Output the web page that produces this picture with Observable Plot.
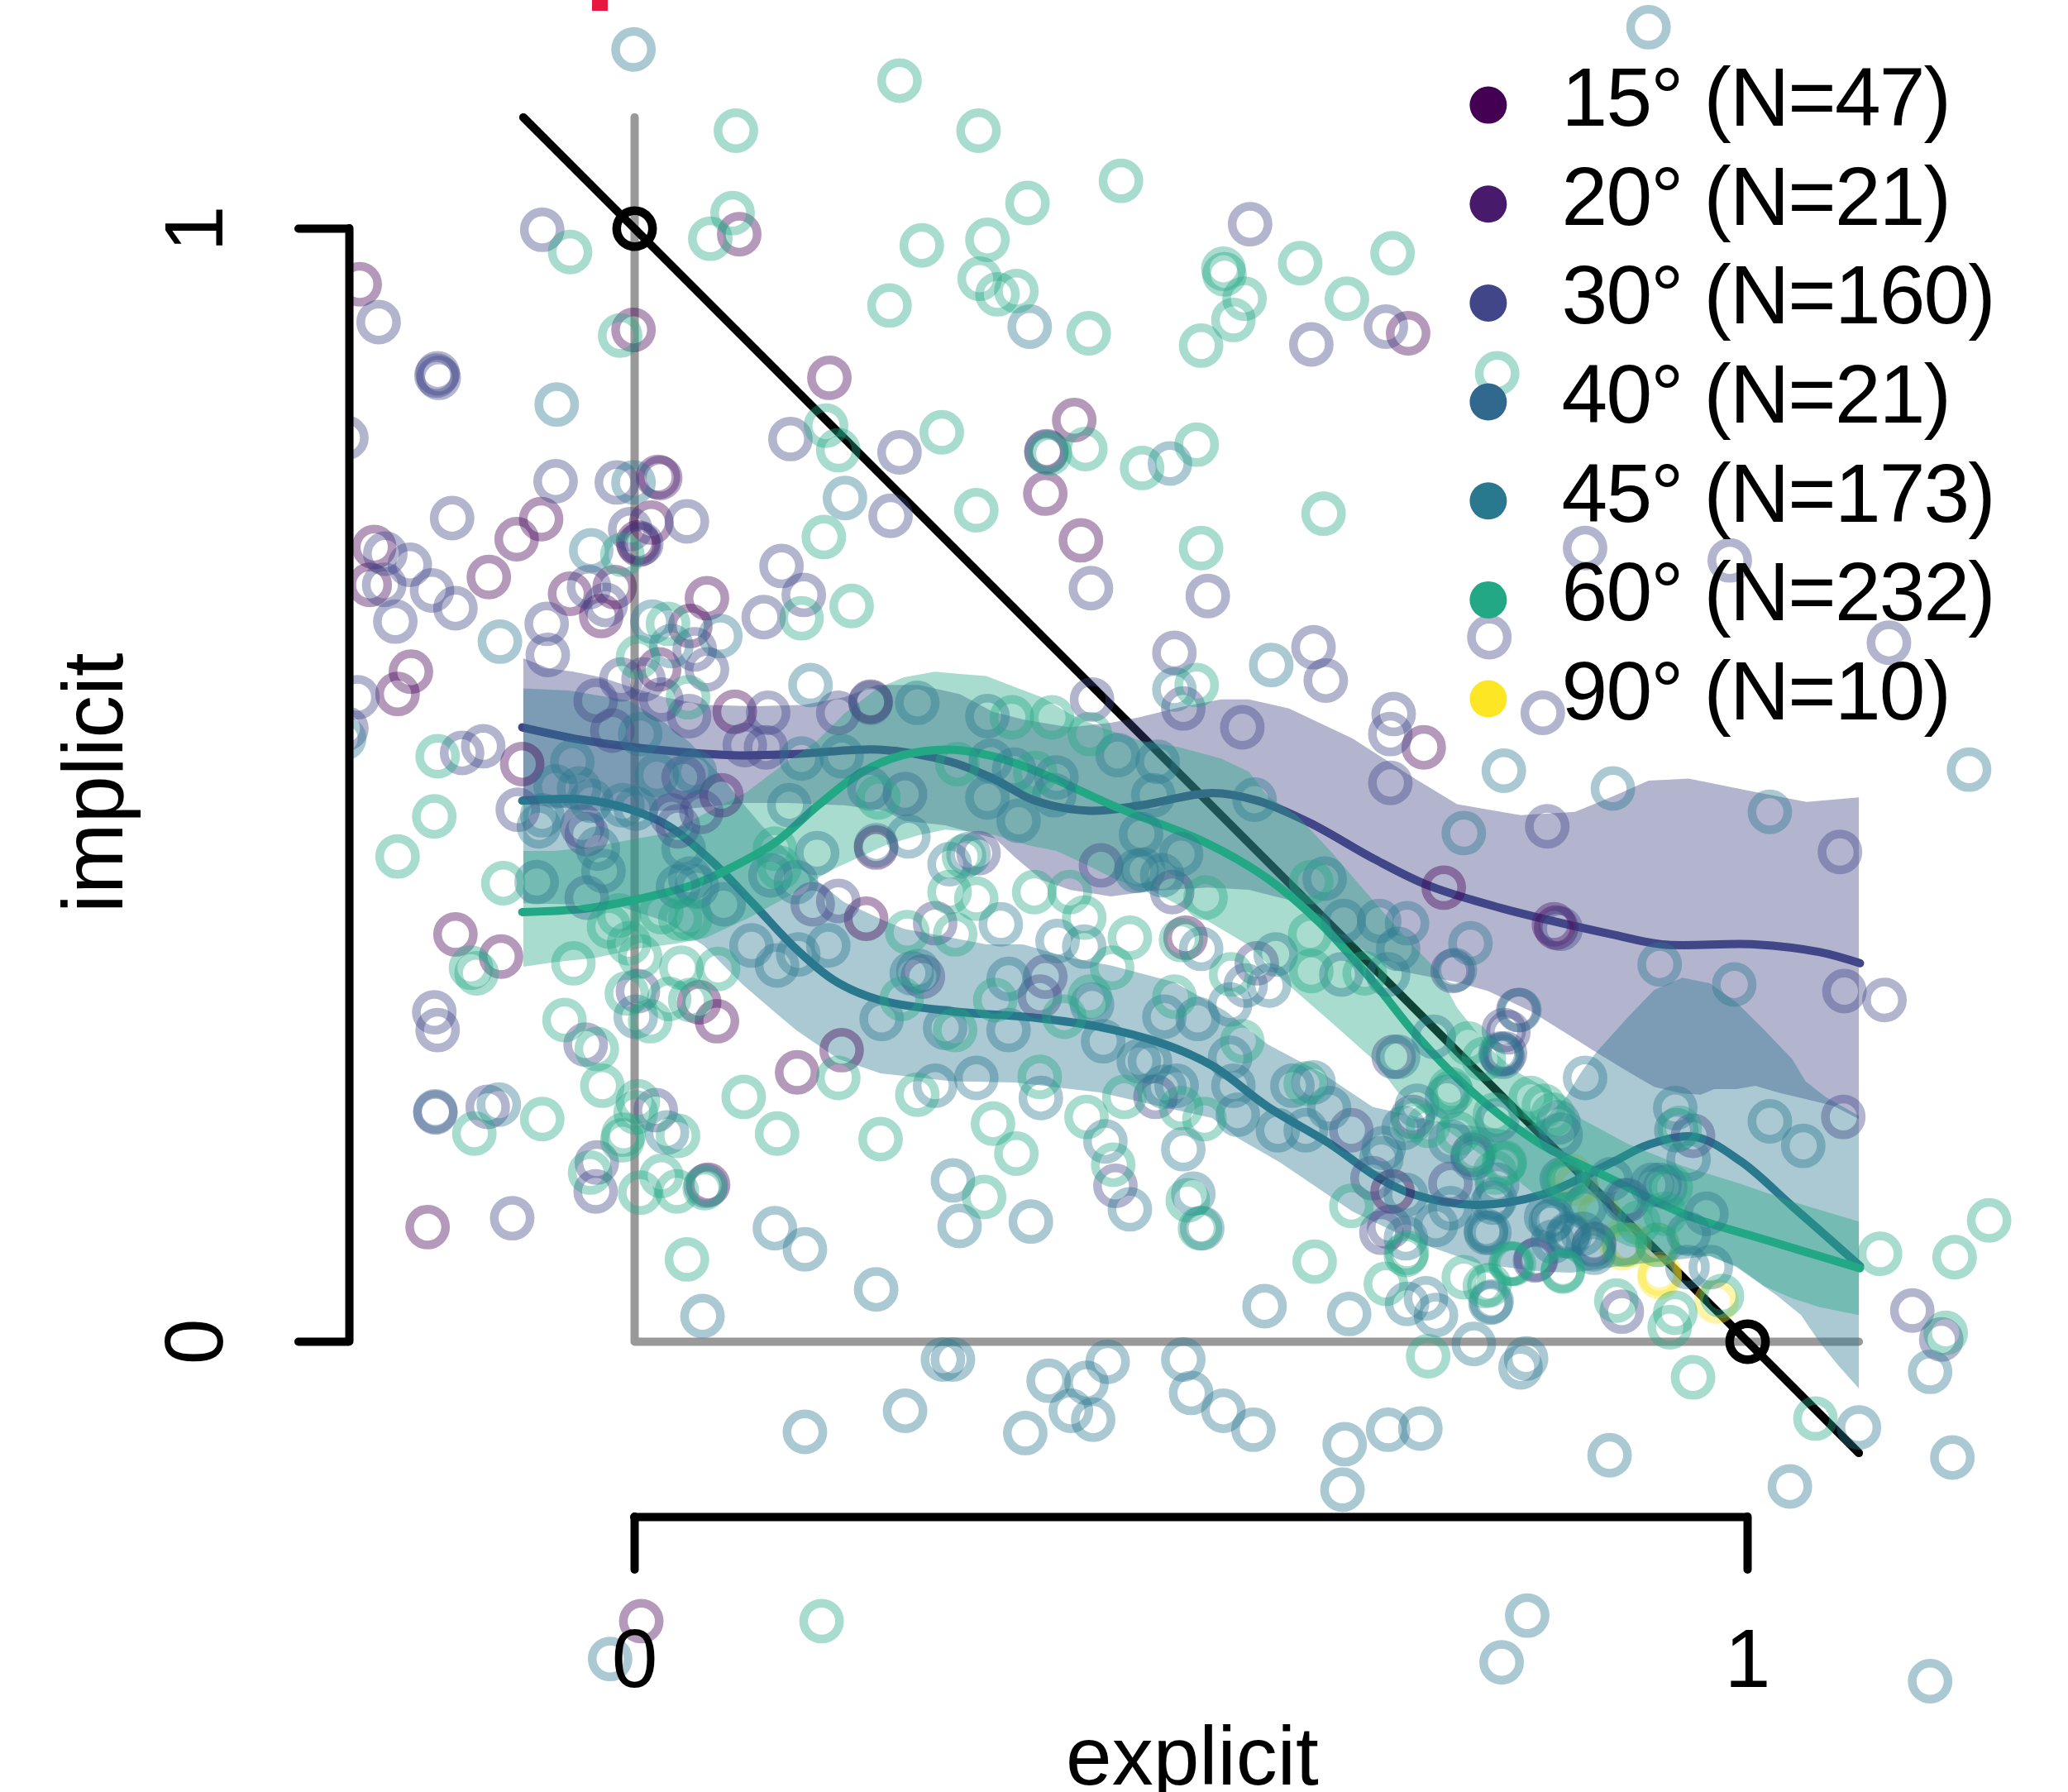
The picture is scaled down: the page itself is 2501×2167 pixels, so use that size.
<!DOCTYPE html>
<html><head><meta charset="utf-8">
<style>html,body{margin:0;padding:0;background:#fff}svg{display:block}.legend-text{letter-spacing:-1.8px}</style>
<script src="https://cdn.jsdelivr.net/npm/d3@7"></script>
<script src="https://cdn.jsdelivr.net/npm/@observablehq/plot@0.6"></script>
</head><body><div id="chart"></div>
<script>
const angleLabels = ["15° (N=47)","20° (N=21)","30° (N=160)","40° (N=21)","45° (N=173)","60° (N=232)","90° (N=10)"];
const angleColors = ["#440154","#481a6c","#404688","#31688e","#2a788e","#22a884","#fde725"];
const tickValues = [0,1];

const s15 = [[.094,.995],[-.247,.950],[-.001,.909],[.175,.866],[-.084,.739],[-.106,.721],[.015,.736],[.003,.718],[-.234,.714],[-.131,.687],[-.238,.680],[-.058,.672],[-.018,.678],[-.030,.652],[.065,.668],[.050,.643],[.022,.604],[-.201,.602],[-.213,.582],[.090,.566],[.212,.575],[-.101,.519],[.217,.444],[.208,.380],[-.161,.366],[-.120,.346],[.146,.242],[.186,.262],[.058,.305],[.074,.288],[.066,.141],[-.186,.103],[.006,-.251],[.828,.372],[.695,.906],[.395,.828],[.370,.800],[.369,.762],[.401,.720],[.709,.534],[.727,.408],[.495,.363],[.681,.135]];
const s20 = [[.021,.777],[.023,.776],[.004,.716],[.078,.491],[.826,.375]];
const s30 = [[-.083,.999],[-.230,.916],[-.177,.870],[-.176,.866],[-.178,.868],[-.259,.812],[.140,.811],[.238,.799],[.230,.742],[-.071,.773],[-.016,.772],[-.164,.740],[.047,.737],[-.004,.730],[.006,.717],[-.224,.708],[-.202,.698],[.132,.697],[-.225,.680],[-.182,.675],[-.215,.647],[-.161,.659],[-.079,.645],[-.078,.617],[-.041,.678],[-.026,.662],[.116,.651],[.152,.671],[.054,.622],[.065,.604],[-.012,.595],[.008,.595],[-.249,.579],[-.259,.551],[-.035,.576],[.024,.577],[.049,.562],[.120,.565],[.183,.565],[-.020,.549],[-.155,.529],[-.136,.535],[.099,.536],[.118,.534],[.044,.507],[-.105,.478],[-.047,.463],[-.043,.456],[.033,.473],[.060,.476],[.039,.463],[.160,.393],[.183,.396],[.270,.376],[-.180,.296],[-.177,.280],[-.044,.267],[.259,.328],[.003,.315],[-.179,.206],[-.132,.211],[.019,.208],[-.034,.161],[-.035,.135],[-.110,.111],[.432,.140],[.832,.371],[1.087,.315],[1.123,.307],[.785,.278],[.782,.259],[.951,.185],[1.086,.202],[.887,.027],[.862,.088],[.810,.074],[.892,.127],[1.127,.628],[1.148,.028],[1.174,.002],[.768,.633],[.816,.565],[.854,.713],[.984,.702],[1.083,.440],[.553,1.004],[.608,.896],[.675,.912],[.410,.677],[.515,.670],[.485,.619],[.493,.569],[.610,.624],[.621,.594],[.546,.552],[.411,.577],[.682,.564],[.679,.546],[.679,.502],[.820,.463],[.735,.333],[.794,.298],[.781,.280],[.779,.258],[.419,.428],[.483,.404],[.559,.340],[.309,.439],[.369,.328],[.364,.310],[.468,.220],[.644,.190],[.809,.073],[.682,.256],[.699,.202],[.753,.168],[.663,.147],[.733,.142],[.678,.103],[.671,.098]];
const s40 = [[-.179,.207],[.217,.446],[.064,.140],[.212,.574],[.370,.799],[.243,.492],[-.043,.399],[.549,.320]];
const s45 = [[-.001,1.161],[-.070,.842],[.189,.758],[-.001,.772],[-.039,.711],[-.121,.629],[.016,.647],[.077,.634],[.033,.625],[.158,.590],[-.261,.542],[.254,.574],[.005,.546],[.054,.512],[.150,.524],[.186,.526],[-.056,.521],[.020,.509],[-.071,.499],[-.050,.497],[-.039,.486],[-.083,.473],[-.086,.463],[-.088,.413],[-.011,.482],[.001,.479],[.139,.482],[.211,.497],[.246,.454],[.283,.429],[.164,.439],[.122,.419],[.145,.413],[.080,.393],[.044,.443],[.050,.416],[.039,.409],[.056,.409],[-.033,.443],[-.028,.423],[.105,.356],[.128,.338],[.147,.348],[.174,.356],[.270,.230],[.222,.290],[.249,.331],[.255,.333],[.001,.292],[.279,.282],[-.122,.213],[.029,.188],[.126,.102],[.153,.083],[.217,.047],[.061,.023],[.277,-.016],[.243,-.062],[.153,-.081],[-.022,-.285],[.365,.219],[.423,.180],[.445,.119],[.493,.173],[.502,.133],[.510,.102],[.356,.108],[.286,.145],[.292,.104],[.566,.032],[.642,.025],[.694,.034],[.711,.039],[.720,.024],[.769,.035],[.754,-.002],[.801,-.015],[.796,-.023],[.286,-.016],[.372,-.035],[.406,-.037],[.425,-.018],[.392,-.062],[.412,-.070],[.351,-.082],[.493,-.016],[.500,-.046],[.529,-.062],[.556,-.079],[.638,-.092],[.677,-.079],[.706,-.078],[.636,-.133],[.876,-.102],[.802,-.246],[.779,-.288],[.921,.339],[.988,.321],[.795,.298],[.780,.256],[.854,.237],[.935,.210],[.936,.190],[.947,.164],[1.020,.198],[1.050,.176],[.877,.146],[.833,.146],[.921,.141],[.914,.141],[.926,.139],[.889,.127],[.854,.121],[.963,.115],[.947,.097],[.967,.067],[.946,.067],[.862,.087],[.823,.108],[.839,.097],[.852,.097],[.775,.141],[.768,.098],[.770,.036],[1.199,.514],[1.164,-.027],[1.184,-.104],[1.100,-.077],[1.038,-.130],[1.164,-.305],[.911,1.181],[1.020,.476],[.879,.497],[.745,.457],[.751,.358],[.737,.334],[.355,.912],[.481,.789],[.485,.586],[.572,.608],[.781,.513],[.317,.562],[.434,.527],[.470,.521],[.466,.491],[.557,.487],[.320,.522],[.341,.514],[.379,.507],[.377,.491],[.317,.489],[.345,.468],[.455,.456],[.491,.438],[.451,.423],[.457,.424],[.474,.419],[.620,.416],[.637,.378],[.669,.378],[.694,.376],[.686,.353],[.576,.348],[.635,.330],[.677,.330],[.570,.320],[.509,.353],[.404,.355],[.380,.360],[.329,.375],[.300,.438],[.336,.326],[.411,.303],[.336,.280],[.421,.270],[.476,.292],[.506,.290],[.535,.303],[.535,.255],[.453,.252],[.463,.252],[.487,.230],[.476,.229],[.542,.204],[.538,.230],[.591,.230],[.610,.233],[.624,.210],[.578,.190],[.603,.190],[.673,.174],[.307,.237],[.765,.100],[.771,.125],[.838,.095],[.819,.112],[.861,.083],[.686,.256],[.718,.274],[.778,.259],[.830,.197],[.832,.186],[.730,.220],[.703,.212],[.691,.192],[.733,.180],[.775,.199],[.753,.165],[.671,.165],[.693,.132],[.773,.128],[.733,.120],[.720,.105],[.765,.098],[.693,.093],[.825,.110],[.840,.095],[.825,.090],[.862,.080]];
const s60 = [[.238,1.133],[.091,1.088],[.088,1.014],[.068,.991],[-.058,.979],[.258,.985],[.229,.931],[-.013,.904],[.172,.823],[.183,.801],[.276,.817],[.170,.723],[-.011,.707],[.150,.650],[.195,.661],[.030,.645],[.003,.615],[.048,.579],[-.177,.526],[-.180,.472],[-.213,.436],[-.118,.412],[.219,.489],[.283,.404],[.126,.443],[.130,.426],[.245,.368],[.041,.380],[.050,.380],[.024,.386],[-.023,.373],[-.014,.383],[-.005,.358],[.005,.346],[.042,.336],[.075,.335],[-.055,.340],[-.147,.336],[-.142,.331],[-.063,.289],[-.034,.263],[-.029,.230],[.183,.237],[.254,.222],[.240,.308],[-.007,.313],[.014,.288],[.031,.308],[.050,.307],[-.144,.187],[-.083,.200],[.098,.220],[.128,.187],[.221,.182],[.003,.216],[.001,.206],[.039,.185],[-.010,.186],[-.011,.181],[-.040,.152],[.005,.134],[.024,.149],[.038,.135],[.063,.138],[.047,.074],[.168,-.251],[.322,.196],[.343,.169],[.364,.238],[.406,.202],[.430,.159],[.497,.127],[.508,.102],[.314,.130],[.611,.072],[.675,.052],[.745,.058],[.764,.050],[.713,-.013],[.939,.192],[.839,.146],[.931,.139],[.926,.115],[.902,.107],[.889,.087],[.919,.087],[.977,.041],[.935,.026],[.930,.013],[.882,.037],[.951,-.032],[.834,.064],[.790,.070],[.782,.161],[.768,.051],[1.119,.079],[1.186,.076],[1.217,.109],[1.178,.008],[1.061,-.069],[.775,.870],[.309,1.088],[.437,1.043],[.353,1.023],[.317,.990],[.310,.955],[.326,.941],[.343,.944],[.408,.906],[.529,.964],[.530,.959],[.548,.937],[.538,.918],[.509,.895],[.598,.969],[.640,.937],[.681,.978],[.373,.798],[.405,.802],[.307,.747],[.456,.785],[.505,.806],[.619,.744],[.509,.713],[.505,.590],[.339,.561],[.375,.561],[.409,.546],[.360,.511],[.290,.519],[.513,.399],[.608,.413],[.607,.366],[.608,.333],[.656,.331],[.536,.330],[.491,.361],[.445,.363],[.404,.381],[.391,.404],[.359,.404],[.288,.366],[.307,.398],[.296,.436],[.429,.336],[.324,.307],[.409,.310],[.386,.292],[.288,.280],[.485,.310],[.546,.270],[.440,.220],[.512,.200],[.491,.210],[.603,.232],[.644,.122],[.694,.080],[.788,.070],[.834,.063],[.749,.268],[.763,.254],[.805,.219],[.817,.212],[.825,.204],[.734,.224],[.733,.227],[.699,.199],[.713,.194],[.740,.187],[.773,.204],[.755,.170],[.781,.160],[.773,.152],[.693,.078],[.787,.070],[.835,.145]];
const s90 = [[.840,.150],[.847,.142],[.867,.115],[.890,.088],[.894,.087],[.919,.087],[.921,.061],[.921,.058],[.972,.036],[.887,.084]];

const line30 = [[-.101,.552],[-.049,.541],[0,.534],[.088,.527],[.145,.528],[.220,.532],[.284,.521],[.322,.506],[.360,.486],[.409,.477],[.455,.482],[.519,.493],[.560,.486],[.607,.466],[.664,.434],[.713,.410],[.777,.390],[.878,.366],[.923,.357],[1.006,.357],[1.065,.350],[1.101,.340]];
const line45 = [[-.101,.486],[-.045,.487],[0,.477],[.031,.463],[.069,.432],[.107,.393],[.145,.353],[.182,.323],[.220,.307],[.284,.297],[.360,.291],[.417,.283],[.474,.268],[.519,.248],[.569,.211],[.626,.177],[.664,.150],[.701,.132],[.758,.123],[.815,.132],[.878,.161],[.911,.177],[.953,.184],[.994,.162],[1.041,.121],[1.101,.068]];
const line60 = [[-.101,.386],[-.045,.389],[0,.397],[.051,.410],[.089,.427],[.127,.449],[.165,.482],[.203,.511],[.241,.527],[.284,.532],[.322,.526],[.360,.513],[.436,.479],[.512,.449],[.569,.416],[.615,.377],[.664,.323],[.701,.277],[.739,.237],[.777,.204],[.815,.177],[.878,.146],[.947,.113],[1.018,.091],[1.101,.066]];

const upper30 = [[-.100,.614],[-.077,.605],[-.055,.602],[-.030,.597],[-.003,.588],[.027,.579],[.064,.572],[.108,.571],[.151,.572],[.188,.579],[.218,.590],[.255,.590],[.292,.582],[.322,.566],[.349,.559],[.391,.552],[.428,.556],[.453,.561],[.490,.570],[.527,.577],[.552,.577],[.588,.569],[.645,.542],[.701,.506],[.739,.483],[.796,.473],[.845,.476],[.879,.490],[.911,.504],[.947,.506],[1.006,.494],[1.053,.485],[1.100,.489]];
const lower30 = [[-.100,.483],[-.035,.477],[.030,.477],[.099,.484],[.138,.484],[.188,.482],[.225,.477],[.242,.468],[.279,.464],[.305,.457],[.324,.452],[.342,.435],[.366,.415],[.391,.406],[.428,.400],[.465,.405],[.515,.408],[.552,.406],[.588,.397],[.626,.370],[.683,.334],[.739,.323],[.767,.315],[.805,.297],[.842,.274],[.864,.260],[.892,.243],[.916,.229],[.941,.223],[.958,.222],[.970,.227],[.990,.227],[1.007,.230],[1.027,.224],[1.052,.218],[1.077,.212],[1.100,.200]];
const upper45 = [[-.100,.587],[-.059,.585],[-.005,.576],[.027,.556],[.049,.539],[.077,.509],[.097,.484],[.114,.464],[.138,.440],[.163,.415],[.188,.395],[.225,.378],[.242,.371],[.279,.364],[.316,.357],[.349,.357],[.391,.345],[.428,.338],[.485,.323],[.531,.297],[.569,.267],[.618,.241],[.663,.211],[.720,.198],[.767,.192],[.792,.189],[.817,.200],[.837,.220],[.851,.243],[.864,.260],[.892,.291],[.916,.316],[.941,.327],[.966,.322],[.990,.305],[1.015,.280],[1.040,.254],[1.052,.234],[1.070,.220],[1.100,.203]];
const lower45 = [[-.100,.394],[-.059,.393],[-.010,.390],[.027,.378],[.062,.356],[.097,.321],[.126,.296],[.145,.280],[.183,.254],[.221,.241],[.285,.234],[.342,.233],[.418,.224],[.474,.211],[.519,.201],[.542,.183],[.580,.161],[.611,.140],[.645,.117],[.701,.090],[.759,.070],[.815,.063],[.842,.062],[.892,.069],[.966,.077],[.990,.067],[1.003,.058],[1.027,.041],[1.048,.024],[1.065,-.001],[1.082,-.022],[1.100,-.042]];
const upper60 = [[-.100,.441],[-.072,.441],[-.035,.445],[.002,.452],[.030,.457],[.064,.475],[.101,.494],[.138,.522],[.163,.539],[.188,.564],[.218,.587],[.242,.597],[.270,.602],[.292,.600],[.316,.598],[.342,.588],[.366,.579],[.391,.564],[.416,.553],[.455,.540],[.490,.534],[.527,.524],[.552,.512],[.569,.490],[.595,.473],[.626,.440],[.663,.397],[.701,.354],[.721,.334],[.739,.300],[.767,.265],[.792,.243],[.822,.226],[.851,.200],[.892,.178],[.941,.158],[.990,.143],[1.040,.126],[1.100,.108]];
const lower60 = [[-.100,.337],[-.072,.341],[-.035,.345],[.002,.353],[.039,.358],[.064,.363],[.101,.380],[.138,.400],[.175,.423],[.225,.446],[.255,.455],[.279,.460],[.305,.458],[.324,.455],[.354,.446],[.379,.441],[.403,.430],[.433,.415],[.465,.405],[.515,.378],[.552,.356],[.588,.320],[.626,.287],[.663,.254],[.686,.224],[.730,.190],[.767,.163],[.792,.146],[.817,.126],[.842,.112],[.866,.098],[.892,.086],[.929,.079],[.966,.077],[.990,.068],[1.015,.050],[1.040,.039],[1.065,.031],[1.100,.024]];

const diagonal = [[-.1,1.1],[1.1,-.1]];
const greyAxes = [[0,1.1],[0,0],[1.1,0]];
const anchors = [[0,1],[1,0]];
const redMark = {x1:-.0379,x2:-.0238,y1:1.1954,y2:1.21};
const axisXAt = -.1575, axisYAt = -.2563;
const marginMask = {x1:-.6,y1:-.5,y2:1.3};
const legendX = .767, legendTextX = .8329, legendTop = 1.111, legendStep = .0889;

const X = d => d[0], Y = d => d[1];
const ink = "#000";
const dots = (arr,c) => Plot.dot(arr,{x:X,y:Y,r:21.7,stroke:c,strokeOpacity:.4,strokeWidth:10.5,fill:"none"});
const ribbon = (up,lo,c) => Plot.line(up.concat(lo.slice().reverse()),{x:X,y:Y,fill:c,fillOpacity:.4,stroke:"none",curve:"linear"});
const curve = (arr,c) => Plot.line(arr,{x:X,y:Y,stroke:c,strokeWidth:10,strokeLinecap:"round",curve:"catmull-rom"});
const legendRows = angleLabels.map((label,i)=>({label,color:angleColors[i],y:legendTop-i*legendStep}));

const chart = Plot.plot({
  width:2501,height:2167,marginLeft:422,marginRight:0,marginTop:276,marginBottom:333,
  style:{fontFamily:"'Liberation Sans',Helvetica,Arial,sans-serif",fontSize:"100px",background:"#fff",color:"#000"},
  x:{type:"linear",domain:[0,1],range:[767,2113]},
  y:{type:"linear",domain:[0,1],range:[1622,276]},
  marks:[
    Plot.rect([redMark],{x1:"x1",x2:"x2",y1:"y1",y2:"y2",fill:"#e8173f"}),
    Plot.line(greyAxes,{x:X,y:Y,stroke:"#999",strokeWidth:10,strokeLinecap:"round",strokeLinejoin:"round"}),
    Plot.line(diagonal,{x:X,y:Y,stroke:ink,strokeWidth:10,strokeLinecap:"round"}),
    Plot.dot(anchors,{x:X,y:Y,r:21.7,stroke:ink,strokeWidth:10.5,fill:"none"}),
    dots(s90,angleColors[6]),
    ribbon(upper30,lower30,angleColors[2]),
    curve(line30,angleColors[2]),
    ribbon(upper45,lower45,angleColors[4]),
    curve(line45,angleColors[4]),
    ribbon(upper60,lower60,angleColors[5]),
    curve(line60,angleColors[5]),
    dots(s15,angleColors[0]),dots(s20,angleColors[1]),dots(s30,angleColors[2]),dots(s40,angleColors[3]),dots(s45,angleColors[4]),dots(s60,angleColors[5]),
    Plot.rect([marginMask],{x1:"x1",x2:()=>axisYAt,y1:"y1",y2:"y2",fill:"#fff"}),
    Plot.ruleX([axisYAt],{y1:0,y2:1,stroke:ink,strokeWidth:10,strokeLinecap:"round"}),
    Plot.axisY({ticks:tickValues,anchor:"left",tickSize:61,tickRotate:-90,tickPadding:93,label:null,strokeWidth:10,strokeLinecap:"round",tickFormat:d=>String(d)}),
    Plot.ruleY([axisXAt],{x1:0,x2:1,stroke:ink,strokeWidth:10,strokeLinecap:"round"}),
    Plot.axisX({ticks:tickValues,anchor:"bottom",tickSize:64,tickPadding:70,label:null,strokeWidth:10,strokeLinecap:"round",tickFormat:d=>String(d)}),
    Plot.text(["explicit"],{x:.501,y:-.398,text:d=>d,lineAnchor:"bottom",textAnchor:"middle"}),
    Plot.text(["implicit"],{x:-.4606,y:.502,text:d=>d,rotate:-90,lineAnchor:"bottom",textAnchor:"middle",fontSize:103}),
    Plot.dot(legendRows,{x:legendX,y:"y",r:22.5,fill:"color",stroke:"none"}),
    Plot.text(legendRows,{x:legendTextX,y:"y",text:"label",textAnchor:"start",lineAnchor:"middle",dy:-7,className:"legend-text"})
  ]
});
document.getElementById("chart").appendChild(chart);
</script></body></html>
